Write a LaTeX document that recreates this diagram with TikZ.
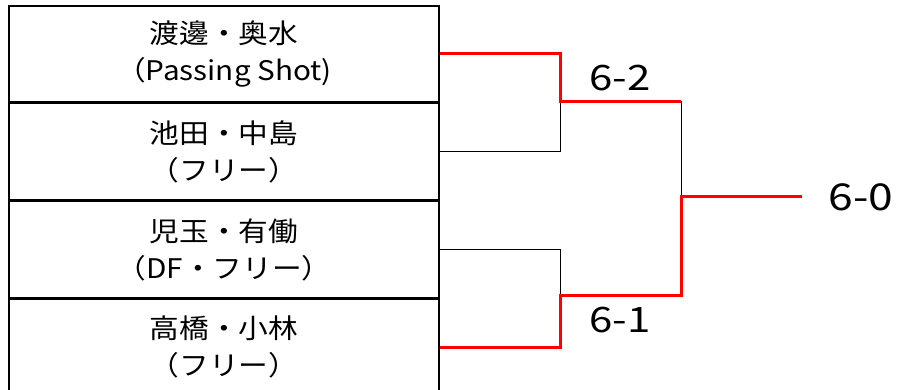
\documentclass[tikz,border=0pt]{standalone}
\usepackage{fontspec}
\setmainfont{Noto Sans CJK JP}[FakeStretch=1.1]
\newfontfamily\scorefont{Noto Sans CJK JP}[FakeStretch=1.2]
\usetikzlibrary{positioning}
\begin{document}
\begin{tikzpicture}[x=1pt,y=-1pt,
    pair/.style={draw,line width=1.5pt,minimum width=430pt,minimum height=96.3pt,
      inner sep=0pt,align=center,font=\fontsize{27}{37}\selectfont},
    lose/.style={line width=1pt},
    win/.style={red,line width=3pt},
    score/.style={font=\scorefont\fontsize{35}{35}\selectfont}]
    \useasboundingbox (0,0) rectangle (905,390);

    % entries
    \node[pair] (p1) at (224,54) {渡邊・奥水\\（Passing Shot)};
    \node[pair,below=0pt of p1] (p2) {池田・中島\\（フリー）};
    \node[pair,below=0pt of p2] (p3) {児玉・有働\\（DF・フリー）};
    \node[pair,below=0pt of p3] (p4) {高橋・小林\\（フリー）};

    % junctions
    \coordinate (s1) at (560,102);
    \coordinate (s2) at (560,295);
    \coordinate (f) at (681,197);
    \coordinate (champ) at (802,197);

    % losers
    \draw[lose] (p2.east) -| (s1);
    \draw[lose] (p3.east) -| (s2);
    \draw[lose] (s1) -| (f);

    % winners
    \draw[win] (p1.east) -| (s1) -- (s1 -| f);
    \draw[win] (p4.east) -| (s2) -| (f) -- (champ);

    % scores
    \node[score] (r1) at (620,78) {6-2};
    \node[score] (r2) at (620,320) {6-1};
    \node[score,font=\scorefont\fontsize{37}{37}\selectfont] (r3) at (861,197) {6-0};
\end{tikzpicture}
\end{document}
